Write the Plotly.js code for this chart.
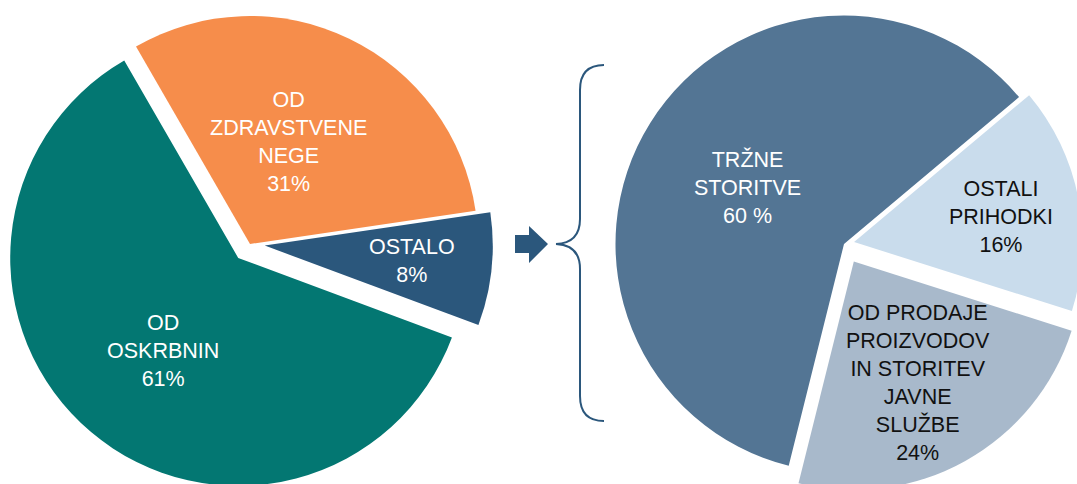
<!DOCTYPE html>
<html>
<head>
<meta charset="utf-8">
<script src="https://cdn.plot.ly/plotly-3.0.1.min.js"></script>
<style>
  html, body { margin: 0; padding: 0; overflow: hidden; background: #ffffff; width: 1077px; height: 484px; }
  #chart { position: absolute; left: 0; top: -10px; }
</style>
</head>
<body>
<div id="chart"></div>
<script>
// ---- data ----
const leftLabels = ['OD<br>ZDRAVSTVENE<br>NEGE', 'OSTALO', 'OD<br>OSKRBNIN'];
const leftValues = [31, 8, 61];
const leftPctText = ['31%', '8%', '61%'];
const leftColors = ['#F68D4B', '#2B577C', '#037772'];
const leftPull = [0, 0.065, 0.08];

const rightLabels = ['TRŽNE<br>STORITVE', 'OSTALI<br>PRIHODKI', 'OD PRODAJE<br>PROIZVODOV<br>IN STORITEV<br>JAVNE<br>SLUŽBE'];
const rightValues = [60, 16, 24];
const rightPctText = ['60 %', '16%', '24%'];
const rightColors = ['#537594', '#C9DCEC', '#A8B9CB'];
const rightPull = [0, 0.045, 0.088];
const rightTextColors = ['#ffffff', '#111111', '#111111'];
const leftTextColors = ['#ffffff', '#ffffff', '#ffffff'];

// ---- layout helpers (pixel geometry) ----
const W = 1100, H = 510, OY = 10;
const px = x => x / W;
const py = y => 1 - (y + OY) / H;

function domainFor(cx, cy, r, pulls) {
  const half = r * (1 + Math.max(...pulls));
  return {
    x: [(cx - half) / W, (cx + half) / W],
    y: [1 - (cy + OY + half) / H, 1 - (cy + OY - half) / H]
  };
}

const traces = [
  {
    type: 'pie', values: leftValues, labels: leftLabels.map(s => s.replace(/<br>/g, ' ')),
    marker: { colors: leftColors, line: { width: 0 } },
    sort: false, direction: 'clockwise', rotation: -30,
    pull: leftPull, textinfo: 'none', hoverinfo: 'skip',
    domain: domainFor(250, 244, 228, leftPull), showlegend: false
  },
  {
    type: 'pie', values: rightValues, labels: rightLabels.map(s => s.replace(/<br>/g, ' ')),
    marker: { colors: rightColors, line: { width: 0 } },
    sort: false, direction: 'clockwise', rotation: -166,
    pull: rightPull, textinfo: 'none', hoverinfo: 'skip',
    domain: domainFor(844, 244, 228.5, rightPull), showlegend: false
  }
];

const font = { family: '"Liberation Sans", Arial, sans-serif', size: 21.5 };
function ann(text, x, y, color) {
  return { text: text, x: px(x), y: py(y), xref: 'paper', yref: 'paper',
           xanchor: 'center', yanchor: 'middle', showarrow: false, align: 'center',
           font: Object.assign({}, font, { color: color }) };
}
const leftPos = [[288, 142], [412, 261], [163, 351]];
const rightPos = [[747, 188], [1001, 217], [918, 383]];
const annotations = [];
leftLabels.forEach((l, i) => annotations.push(ann(l + '<br>' + leftPctText[i], leftPos[i][0], leftPos[i][1], leftTextColors[i])));
rightLabels.forEach((l, i) => annotations.push(ann(l + '<br>' + rightPctText[i], rightPos[i][0], rightPos[i][1], rightTextColors[i])));

const navy = '#2B577C';
const arrowPath = 'M' + px(515) + ',' + py(235) + ' L' + px(529) + ',' + py(235) + ' L' + px(529) + ',' + py(226) +
  ' L' + px(548) + ',' + py(244) + ' L' + px(529) + ',' + py(263) + ' L' + px(529) + ',' + py(253) +
  ' L' + px(515) + ',' + py(253) + ' Z';
const bracePath = 'M' + px(604) + ',' + py(65) +
  ' Q' + px(580) + ',' + py(65) + ' ' + px(580) + ',' + py(90) +
  ' L' + px(580) + ',' + py(219) +
  ' Q' + px(580) + ',' + py(243) + ' ' + px(556) + ',' + py(244) +
  ' Q' + px(580) + ',' + py(245) + ' ' + px(580) + ',' + py(269) +
  ' L' + px(580) + ',' + py(396) +
  ' Q' + px(580) + ',' + py(421) + ' ' + px(604) + ',' + py(421);

const layout = {
  width: W, height: H,
  margin: { l: 0, r: 0, t: 0, b: 0, pad: 0 },
  paper_bgcolor: '#ffffff', plot_bgcolor: '#ffffff',
  showlegend: false,
  annotations: annotations,
  shapes: [
    { type: 'path', xref: 'paper', yref: 'paper', path: arrowPath, fillcolor: navy, line: { width: 0 } },
    { type: 'path', xref: 'paper', yref: 'paper', path: bracePath, line: { color: navy, width: 2 } }
  ]
};

Plotly.newPlot('chart', traces, layout, { staticPlot: true, displayModeBar: false });
</script>
</body>
</html>
